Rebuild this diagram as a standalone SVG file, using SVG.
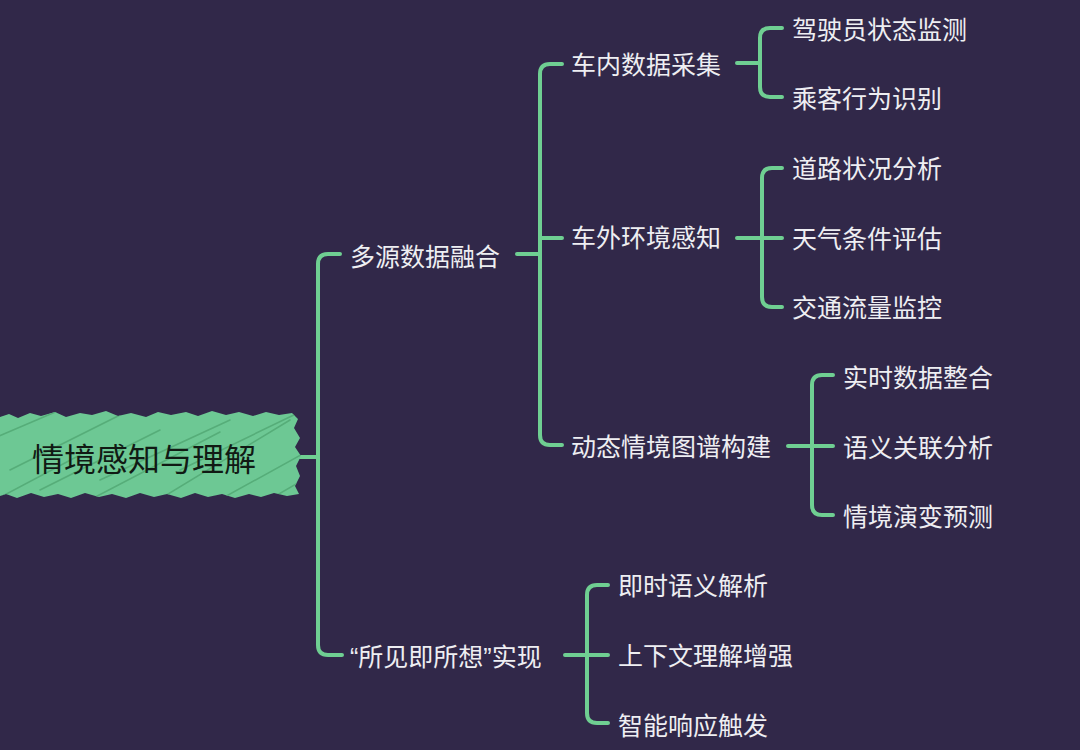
<svg xmlns="http://www.w3.org/2000/svg" width="1080" height="750" viewBox="0 0 1080 750">
<defs>
<style>
.t{font-family:"Liberation Sans","Noto Sans CJK SC",sans-serif;font-size:25px;fill:#eeeef2;dominant-baseline:central}
.rt{font-family:"Liberation Sans","Noto Sans CJK SC",sans-serif;font-size:32px;fill:#111a14;dominant-baseline:central}
.c{fill:none;stroke:#6fcf92;stroke-width:4;stroke-linecap:round;stroke-linejoin:round}
.h{fill:none;stroke:#56ad79;stroke-width:1.6;stroke-linecap:round}
</style>
<clipPath id="rc"><path id="rs" d="M0,417 L9,414 L18,418 L30,413 L41,416 L55,412 L66,417 L80,413 L92,415 L106,411 L118,416 L131,413 L146,417 L158,412 L171,415 L186,412 L198,416 L212,411 L226,415 L239,412 L253,416 L266,412 L279,415 L292,413 L298,419 L294,428 L300,438 L295,447 L301,456 L296,466 L300,476 L295,486 L299,494 L287,496 L274,493 L261,497 L249,494 L235,498 L222,494 L208,497 L195,493 L181,498 L167,494 L154,497 L140,493 L126,498 L112,494 L99,497 L85,493 L71,498 L58,494 L44,497 L31,493 L17,498 L6,494 L0,496 Z"/></clipPath>
</defs>
<rect width="1080" height="750" fill="#312849"/>
<g id="connectors">
<path class="c" d="M300,457 H318 M340,254 H328 Q318,254 318,264 V645 Q318,655 328,655 H342"/>
<path class="c" d="M517,254 H540 M562,64 H550 Q540,64 540,74 V435 Q540,445 550,445 H562 M540,238 H562"/>
<path class="c" d="M737,63 H760 M782,28 H770 Q760,28 760,38 V87 Q760,97 770,97 H782"/>
<path class="c" d="M737,238 H782 M782,168 H772 Q762,168 762,178 V297 Q762,307 772,307 H782"/>
<path class="c" d="M788,446 H833 M833,375 H822 Q812,375 812,385 V505 Q812,515 822,515 H833"/>
<path class="c" d="M565,655 H608 M608,585 H597 Q587,585 587,595 V713 Q587,723 597,723 H608"/>
</g>
<g id="root">
<use href="#rs" fill="#6dc894"/>
<g clip-path="url(#rc)">
<path class="h" d="M-10,440 L60,410 M10,470 L120,415 M40,490 L160,430 M80,505 L220,432 M150,505 L290,420 M210,505 L310,450 M260,505 L320,470 M100,480 L230,420 M-5,500 L80,455 M180,470 L300,412"/>
</g>
<text class="rt" x="32" y="460">情境感知与理解</text>
</g>
<g id="n1"><text class="t" x="350" y="257">多源数据融合</text></g>
<g id="n11"><text class="t" x="571" y="65">车内数据采集</text></g>
<g id="n111"><text class="t" x="792" y="30">驾驶员状态监测</text></g>
<g id="n112"><text class="t" x="792" y="99">乘客行为识别</text></g>
<g id="n12"><text class="t" x="571" y="238">车外环境感知</text></g>
<g id="n121"><text class="t" x="792" y="169">道路状况分析</text></g>
<g id="n122"><text class="t" x="792" y="239">天气条件评估</text></g>
<g id="n123"><text class="t" x="792" y="308">交通流量监控</text></g>
<g id="n13"><text class="t" x="571" y="447">动态情境图谱构建</text></g>
<g id="n131"><text class="t" x="843" y="378">实时数据整合</text></g>
<g id="n132"><text class="t" x="843" y="448">语义关联分析</text></g>
<g id="n133"><text class="t" x="843" y="517">情境演变预测</text></g>
<g id="n2"><text class="t" x="350" y="657">“所见即所想”实现</text></g>
<g id="n21"><text class="t" x="618" y="586">即时语义解析</text></g>
<g id="n22"><text class="t" x="618" y="656">上下文理解增强</text></g>
<g id="n23"><text class="t" x="618" y="726">智能响应触发</text></g>
</svg>
